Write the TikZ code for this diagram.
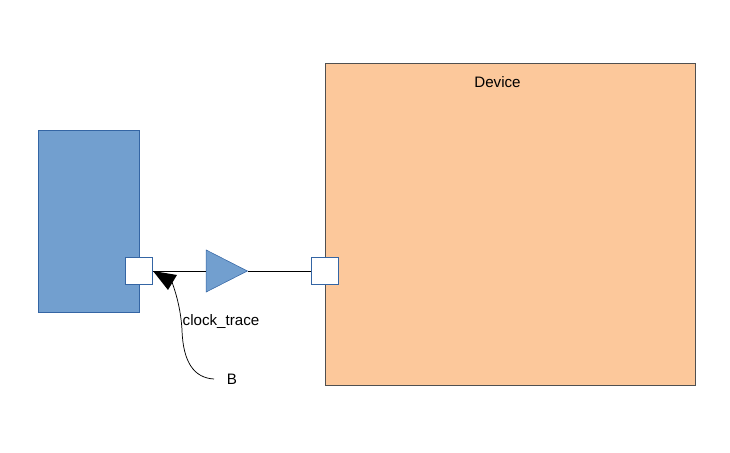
\documentclass[tikz,border=0pt]{standalone}
\usepackage{fontspec}
\setmainfont{Liberation Sans}
\usepackage{xcolor}
\usetikzlibrary{arrows,positioning,calc,shapes.geometric}
\definecolor{steel}{RGB}{114,159,207}
\definecolor{steelline}{RGB}{52,101,164}
\definecolor{peach}{RGB}{252,200,155}
\definecolor{peachline}{RGB}{80,80,80}
\tikzset{
  portbox/.style={draw=steelline, fill=white, minimum size=0.72cm, inner sep=0pt},
  lbl/.style={font=\fontsize{11.4pt}{13pt}\selectfont, inner sep=0pt}
}
\begin{document}
\begin{tikzpicture}[x=0.0264583cm, y=-0.0264583cm]
\useasboundingbox (0,0) rectangle (730,453);
% Blocks
\node[draw=steelline, fill=steel, minimum width=2.67cm, minimum height=4.82cm, inner sep=0pt] (host) at (88.6,221) {};
\node[draw=peachline, fill=peach, minimum width=9.79cm, minimum height=8.53cm, inner sep=0pt] (device) at (510,224.5) {};

% Ports
\node[portbox] (hostport) at (139,271) {};
\node[portbox] (deviceport) at (324.5,271) {};

% Buffer
\node[draw=steelline, fill=steel, isosceles triangle, isosceles triangle apex angle=54, minimum height=1.09cm, inner sep=0pt, anchor=apex] (buffer) at (248,271) {};
\draw[black] (hostport.east) -- (buffer.west);
\draw[black] (buffer.apex) -- (deviceport.west);

% Labels
\node[lbl] (devicelabel) at (497.5,82) {Device};
\node[lbl] (tracelabel) at (221,321.5) {clock\_trace};
\node[lbl] (blabel) at (232,379.5) {B};

% Callout
\coordinate (tip) at (153,271);
\coordinate (bend) at (214,379);
\fill[black] (tip) -- (177,275) -- (168,290) -- cycle;
\draw[black, line width=0.55pt] (bend) .. controls (194,378) and (183,362) .. (182,330) .. controls (181,312) and (177,296) .. (172,282);
\end{tikzpicture}
\end{document}
